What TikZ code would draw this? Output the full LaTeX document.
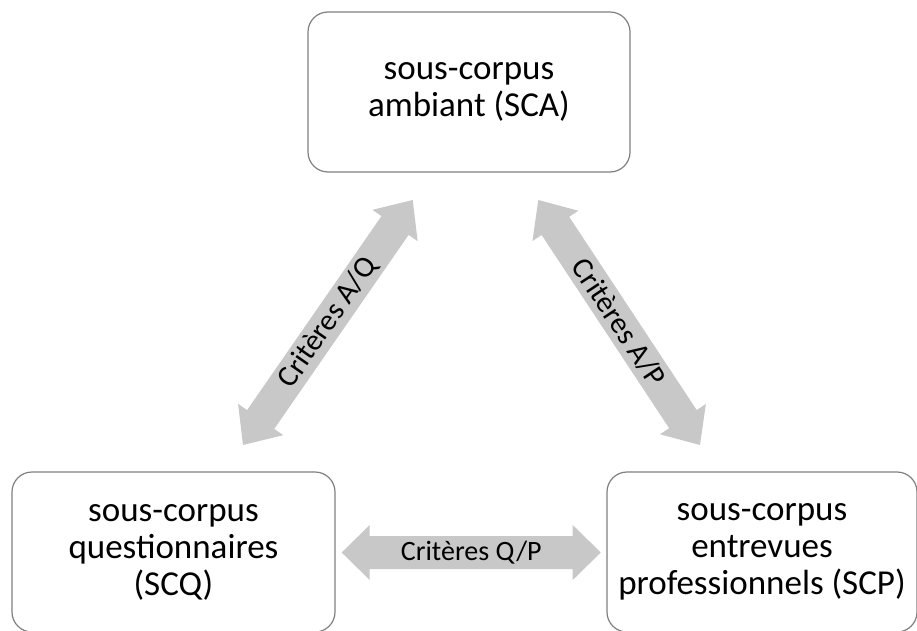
\documentclass[tikz,border=0pt]{standalone}
\usepackage{fontspec}
\setmainfont{Carlito}
\usetikzlibrary{calc}
\definecolor{boxgray}{RGB}{128,128,128}
\definecolor{arrowfill}{RGB}{200,200,200}
\tikzset{
  corpusbox/.style={draw=boxgray, line width=1.2pt, rounded corners=20pt,
    minimum height=160pt, align=center, inner sep=0pt,
    font=\fontsize{35}{37}\selectfont},
  arrowlabel/.style={inner sep=0pt, font=\fontsize{28}{30}\selectfont},
  diaglabel/.style={arrowlabel, font=\fontsize{30}{32}\selectfont},
}
% #1 start coordinate, #2 end coordinate, #3 head length, #4 label node name, #5 text, #6 label style
\newcommand{\blockarrow}[6]{%
  \path let \p1=($(#2)-(#1)$) in \pgfextra{%
    \pgfmathsetmacro\baangtmp{atan2(\y1,\x1)}%
    \pgfmathsetmacro\balentmp{veclen(\x1,\y1)/2}%
    \global\let\baang\baangtmp
    \global\let\balen\balentmp};
  \begin{scope}[shift={($(#1)!0.5!(#2)$)}, rotate=\baang]
    \fill[arrowfill] (-\balen,0) -- (-\balen+#3,27.5) -- (-\balen+#3,16.5)
      -- (\balen-#3,16.5) -- (\balen-#3,27.5) -- (\balen,0)
      -- (\balen-#3,-27.5) -- (\balen-#3,-16.5) -- (-\balen+#3,-16.5)
      -- (-\balen+#3,-27.5) -- cycle;
  \end{scope}
  \node[#6, rotate=\baang] (#4) at ($(#1)!0.5!(#2)$) {#5};
}
\begin{document}
\begin{tikzpicture}[x=1pt, y=1pt]
  \useasboundingbox (0,0) rectangle (917,630);
  \clip (0,0) rectangle (917,630);
  \fill[white] (0,0) rectangle (917,630);

  % boxes
  \node[corpusbox, minimum width=322pt] (sca) at (469,538) {sous-corpus\\ambiant (SCA)};
  \node[corpusbox, minimum width=323pt] (scq) at (173.5,78) {sous-corpus\\questionnaires\\(SCQ)};
  \node[corpusbox, minimum width=310pt] (scp) at (762,78) {sous-corpus\\entrevues\\professionnels (SCP)};

  % arrow end points
  \coordinate (aqS) at (243,185);
  \coordinate (aqE) at (412.7,430);
  \coordinate (apS) at (538.3,430);
  \coordinate (apE) at (700,185);
  \coordinate (qpS) at (341.7,77.5);
  \coordinate (qpE) at (600.7,77.5);

  \blockarrow{aqS}{aqE}{31}{aq}{Critères A/Q}{diaglabel}
  \blockarrow{apS}{apE}{31}{ap}{Critères A/P}{diaglabel}
  \blockarrow{qpS}{qpE}{28}{qp}{Critères Q/P}{arrowlabel}
\end{tikzpicture}
\end{document}
